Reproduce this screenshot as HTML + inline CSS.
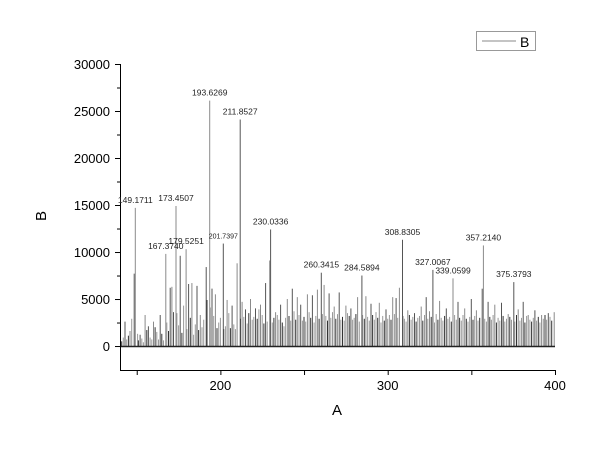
<!DOCTYPE html>
<html><head><meta charset="utf-8"><style>
body{margin:0;background:#fff}
svg{display:block;font-family:"Liberation Sans",Arial,sans-serif}
</style></head><body>
<svg id="c" width="600" height="450">
<g id="marks"></g>
<g id="axes"></g>
<g id="labels"></g>
<g>
<rect x="476.5" y="31.5" width="59" height="19" fill="#fff" stroke="#999"/>
<line x1="482" y1="41" x2="516" y2="41" stroke="#888"/>
<text x="520" y="47" font-size="14">B</text>
</g>
<text x="337" y="415" font-size="15" text-anchor="middle">A</text>
<text transform="translate(46,216) rotate(-90)" font-size="15" text-anchor="middle">B</text>
</svg>
<script>
const peakX=[148.5,149.17,143,146,152,155,157,160,164,167.37,170,171,172,173.45,176,179.53,181,183,186,188,191.5,193.63,195,197,201.74,204,207,210,211.85,213,215,218,221,224,227,229.5,230.03,233,236,240,243,246,248,252,255,258,260.34,262,265,268,271,275,278,282,284.59,287,290,295,299,303,305,307,308.83,312,316,320,323,325,327.01,331,335,339.06,342,346,350,353,356.5,357.21,360,364,368,372,375.38,378,381,384,388,392,396,399.5];
const peakY=[7700,14700,2600,1600,1200,3300,2100,2600,3300,9800,6200,6300,3600,14900,9600,10300,6600,6700,6400,3300,8400,26100,6100,5500,10900,4900,4300,8800,24100,4700,3900,5000,4000,4400,6700,9100,12400,3600,4400,5000,6100,5200,4400,5500,5400,6000,7800,6500,5600,4200,5700,4300,4000,5200,7500,5300,4500,4600,3900,5200,5100,6200,11300,3800,3500,4200,5200,3700,8100,4800,4000,7200,4700,4000,5000,3800,6100,10700,4700,4400,4600,3400,6800,3900,4700,3300,3800,3300,3500,3600];
const fillX=[141,142,144,145,147,150.5,151,153,154,156,158,159,161,162,163,165,166,168,169,174,175,177,178,180,182,184,185,187,189,190,192,194,196,198,199,200,202,203,205,206,208,209,212,214,216,217,219,220,222,223,225,226,228,231,232,234,235,237,238,239,241,242,244,245,247,249,250,251,253,254,256,257,259,261,263,264,266,267,269,270,272,273,274,276,277,279,280,281,283,285,286,288,289,291,292,293,294,296,297,298,300,301,302,304,306,309,310,311,313,314,315,317,318,319,321,322,324,326,328,329,330,332,333,334,336,337,338,340,341,343,344,345,347,348,349,351,352,354,355,358,359,361,362,363,365,366,367,369,370,371,373,374,376,377,379,380,382,383,385,386,387,389,390,391,393,394,395,397,398];
const fillY=[500,900,700,1100,2900,1300,600,800,400,1700,900,700,2000,1500,700,1300,600,2500,1600,3500,2200,1400,4300,1800,3000,1200,2300,1700,2000,2800,4900,4100,3200,1900,2500,3000,1800,2100,3500,1900,2300,1800,2900,3100,2400,3500,2800,3100,2900,3900,3300,2400,2600,2500,3000,3300,2800,2500,2100,3000,3200,2700,3700,2800,3300,2700,3100,2600,3600,3000,2500,3200,2900,3400,3200,2700,3000,3600,2900,3400,2800,3100,2700,3500,3200,2800,3000,3400,2600,3300,2900,3100,2700,3300,2800,3600,3000,2500,3200,2700,2900,3300,2800,3400,3000,3200,2900,2600,3300,2800,3100,2600,3000,3200,2700,3300,2900,3100,2500,3400,2800,3000,2700,3200,2900,3100,2600,3300,2800,3000,2700,3300,2900,2600,3100,2800,3200,2700,3000,2900,2600,3100,2800,3300,2500,3000,2700,3200,2600,2900,3100,2800,2600,3300,2700,3000,2500,3200,2800,2600,3000,2700,3100,2500,2900,3300,2800,3100,2700,3000,2600,3200,2800,2900,3100,2700,3000,3300];
const labelX=[149.1711,167.3740,173.4507,179.5251,193.6269,201.7397,211.8527,230.0336,260.3415,284.5894,308.8305,327.0067,339.0599,357.2140,375.3793];
const labelY=[14700,9800,14900,10300,26100,10900,24100,12400,7800,7500,11300,8100,7200,10700,6800];
const xTicks=[150,200,250,300,350,400];
const xTickLabels=["200","300","400"];
const yTicks=[0,5000,10000,15000,20000,25000,30000];
const X0=140,X1=400,Y0=-2550,Y1=30000;
const PL=120,PR=555,PT=64,PB=370;
const xs=v=>PL+(v-X0)/(X1-X0)*(PR-PL);
const ys=v=>PB-(v-Y0)/(Y1-Y0)*(PB-PT);
const NS="http://www.w3.org/2000/svg";
function mk(t,a,p){const e=document.createElementNS(NS,t);for(const k in a)e.setAttribute(k,a[k]);p.appendChild(e);return e;}
const marks=document.getElementById('marks'),axes=document.getElementById('axes'),labels=document.getElementById('labels');
const nFill=Math.min(fillX.length,fillY.length);
for(let i=0;i<nFill;i++){const x=fillX[i];const l=mk('line',{x1:xs(x).toFixed(1),x2:xs(x).toFixed(1),y1:ys(0),y2:ys(fillY[i]),stroke:i%3===0?'#333':'#999','stroke-width':1},marks);

}
peakX.forEach((x,i)=>{const l=mk('line',{x1:xs(x).toFixed(1),x2:xs(x).toFixed(1),y1:ys(0),y2:ys(peakY[i]),stroke:i%2?'#8a8a8a':'#555','stroke-width':1},marks);

});
const bl=mk('line',{x1:PL,x2:PR,y1:ys(0)+0.5,y2:ys(0)+0.5,stroke:'#222','stroke-width':1.5},marks);


labelX.forEach((x,i)=>{const t=mk('text',{x:xs(x),y:ys(labelY[i])-5,'font-size':labelX[i]===201.7397?7:8.5,'text-anchor':'middle',fill:'#222'},labels);t.textContent=x.toFixed(4);

});
const ya=mk('line',{x1:PL+.5,x2:PL+.5,y1:PT,y2:PB,stroke:'#000'},axes);


const xa=mk('line',{x1:PL,x2:PR+.5,y1:PB+.5,y2:PB+.5,stroke:'#000'},axes);


for(let v=0;v<=30000;v+=2500){const maj=v%5000===0;const t=mk('line',{x1:PL-(maj?5:3),x2:PL,y1:ys(v)+.5,y2:ys(v)+.5,stroke:'#000'},axes);

}
yTicks.forEach(v=>{const t=mk('text',{x:PL-10,y:ys(v)+5,'font-size':13,'text-anchor':'end'},axes);t.textContent=v;

});
xTicks.forEach(v=>{const t=mk('line',{x1:xs(v)+.5,x2:xs(v)+.5,y1:PB,y2:PB+5,stroke:'#000'},axes);

});
xTickLabels.forEach(s=>{const t=mk('text',{x:xs(+s),y:PB+20,'font-size':13,'text-anchor':'middle'},axes);t.textContent=s;

});
</script>
</body></html>
